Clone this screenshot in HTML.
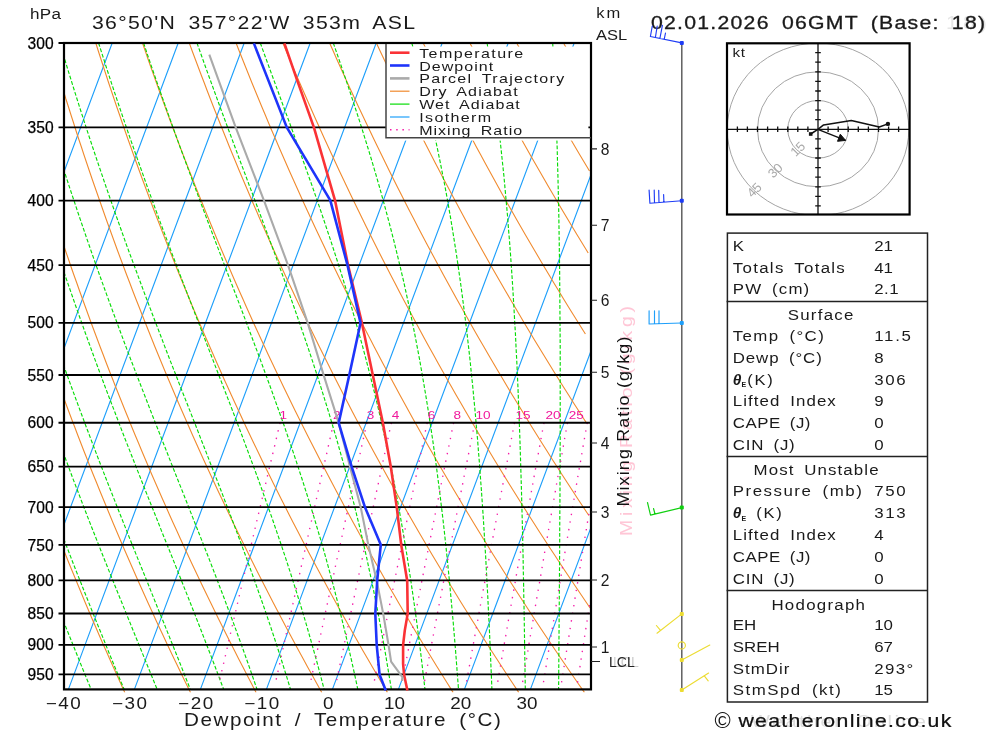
<!DOCTYPE html>
<html lang="en"><head><meta charset="utf-8"><title>Skew-T sounding 36°50'N 357°22'W</title>
<style>html,body{margin:0;padding:0;background:#fff}body{width:1000px;height:733px;overflow:hidden}svg{display:block}text{font-family:"Liberation Sans", sans-serif;fill:#1a1a1a}</style></head><body>
<svg width="1000" height="733" viewBox="0 0 1000 733">
<rect width="1000" height="733" fill="#fff"/>
<defs><clipPath id="cp"><rect x="64" y="43" width="527" height="649.4"/></clipPath></defs>
<g clip-path="url(#cp)" fill="none">
<path d="M-129.6 689.4 L112.2 43 M-63.6 689.4 L178.2 43 M2.4 689.4 L244.2 43 M68.4 689.4 L310.2 43 M134.4 689.4 L376.2 43 M200.4 689.4 L442.2 43 M266.4 689.4 L508.2 43 M332.4 689.4 L574.2 43 M398.4 689.4 L640.2 43 M464.4 689.4 L706.2 43 M530.4 689.4 L772.2 43" stroke="#1e9ffa" stroke-width="1.15"/>
<path d="M-91.3 43 L-89.6 51 L-87.8 59 L-86 67 L-84.1 75 L-82.3 83 L-80.4 91 L-78.5 99 L-76.6 107 L-74.7 115 L-72.7 123 L-70.8 131 L-68.8 139 L-66.8 147 L-64.7 155 L-62.7 163 L-60.6 171 L-58.5 179 L-56.4 187 L-54.3 195 L-52.1 203 L-49.9 211 L-47.7 219 L-45.5 227 L-43.2 235 L-41 243 L-38.7 251 L-36.4 259 L-34 267 L-31.7 275 L-29.3 283 L-26.9 291 L-24.4 299 L-22 307 L-19.5 315 L-17 323 L-14.5 331 L-12 339 L-9.4 347 L-6.8 355 L-4.2 363 L-1.6 371 L1.1 379 L3.8 387 L6.5 395 L9.2 403 L11.9 411 L14.7 419 L17.5 427 L20.3 435 L23.2 443 L26.1 451 L29 459 L31.9 467 L34.8 475 L37.8 483 L40.8 491 L43.8 499 L46.9 507 L49.9 515 L53 523 L56.2 531 L59.3 539 L62.5 547 L65.7 555 L68.9 563 L72.2 571 L75.5 579 L78.8 587 L82.1 595 L85.4 603 L88.8 611 L92.2 619 L95.7 627 L99.1 635 L102.6 643 L106.2 651 L109.7 659 L113.3 667 L116.9 675 L120.5 683 L123.4 689.4 L124.8 692.4 M-44.6 43 L-42.6 51 L-40.6 59 L-38.6 67 L-36.6 75 L-34.5 83 L-32.5 91 L-30.4 99 L-28.3 107 L-26.1 115 L-24 123 L-21.8 131 L-19.6 139 L-17.4 147 L-15.1 155 L-12.9 163 L-10.6 171 L-8.3 179 L-6 187 L-3.6 195 L-1.2 203 L1.2 211 L3.6 219 L6 227 L8.5 235 L11 243 L13.5 251 L16 259 L18.6 267 L21.1 275 L23.7 283 L26.4 291 L29 299 L31.7 307 L34.4 315 L37.1 323 L39.8 331 L42.6 339 L45.4 347 L48.2 355 L51.1 363 L53.9 371 L56.8 379 L59.7 387 L62.7 395 L65.6 403 L68.6 411 L71.6 419 L74.7 427 L77.7 435 L80.8 443 L83.9 451 L87.1 459 L90.2 467 L93.4 475 L96.7 483 L99.9 491 L103.2 499 L106.5 507 L109.8 515 L113.1 523 L116.5 531 L119.9 539 L123.3 547 L126.8 555 L130.3 563 L133.8 571 L137.3 579 L140.9 587 L144.5 595 L148.1 603 L151.8 611 L155.4 619 L159.1 627 L162.9 635 L166.6 643 L170.4 651 L174.2 659 L178.1 667 L181.9 675 L185.8 683 L189 689.4 L190.5 692.4 M2.2 43 L4.4 51 L6.6 59 L8.8 67 L11 75 L13.2 83 L15.5 91 L17.8 99 L20.1 107 L22.4 115 L24.8 123 L27.2 131 L29.6 139 L32 147 L34.4 155 L36.9 163 L39.4 171 L41.9 179 L44.5 187 L47 195 L49.6 203 L52.2 211 L54.8 219 L57.5 227 L60.2 235 L62.9 243 L65.6 251 L68.4 259 L71.1 267 L73.9 275 L76.8 283 L79.6 291 L82.5 299 L85.4 307 L88.3 315 L91.2 323 L94.2 331 L97.2 339 L100.2 347 L103.3 355 L106.3 363 L109.4 371 L112.6 379 L115.7 387 L118.9 395 L122.1 403 L125.3 411 L128.6 419 L131.8 427 L135.1 435 L138.5 443 L141.8 451 L145.2 459 L148.6 467 L152 475 L155.5 483 L159 491 L162.5 499 L166.1 507 L169.6 515 L173.2 523 L176.9 531 L180.5 539 L184.2 547 L187.9 555 L191.6 563 L195.4 571 L199.2 579 L203 587 L206.9 595 L210.8 603 L214.7 611 L218.6 619 L222.6 627 L226.6 635 L230.6 643 L234.7 651 L238.7 659 L242.9 667 L247 675 L251.2 683 L254.5 689.4 L256.1 692.4 M49 43 L51.3 51 L53.7 59 L56.1 67 L58.5 75 L61 83 L63.5 91 L65.9 99 L68.5 107 L71 115 L73.6 123 L76.1 131 L78.7 139 L81.4 147 L84 155 L86.7 163 L89.4 171 L92.1 179 L94.9 187 L97.7 195 L100.5 203 L103.3 211 L106.1 219 L109 227 L111.9 235 L114.8 243 L117.7 251 L120.7 259 L123.7 267 L126.7 275 L129.8 283 L132.8 291 L135.9 299 L139.1 307 L142.2 315 L145.4 323 L148.6 331 L151.8 339 L155 347 L158.3 355 L161.6 363 L164.9 371 L168.3 379 L171.7 387 L175.1 395 L178.5 403 L182 411 L185.5 419 L189 427 L192.5 435 L196.1 443 L199.7 451 L203.3 459 L207 467 L210.7 475 L214.4 483 L218.1 491 L221.9 499 L225.7 507 L229.5 515 L233.3 523 L237.2 531 L241.1 539 L245.1 547 L249 555 L253 563 L257 571 L261.1 579 L265.2 587 L269.3 595 L273.4 603 L277.6 611 L281.8 619 L286 627 L290.3 635 L294.6 643 L298.9 651 L303.3 659 L307.6 667 L312.1 675 L316.5 683 L320.1 689.4 L321.8 692.4 M95.8 43 L98.3 51 L100.9 59 L103.5 67 L106.1 75 L108.7 83 L111.4 91 L114.1 99 L116.8 107 L119.6 115 L122.3 123 L125.1 131 L127.9 139 L130.8 147 L133.6 155 L136.5 163 L139.4 171 L142.3 179 L145.3 187 L148.3 195 L151.3 203 L154.3 211 L157.4 219 L160.5 227 L163.6 235 L166.7 243 L169.9 251 L173.1 259 L176.3 267 L179.5 275 L182.8 283 L186.1 291 L189.4 299 L192.7 307 L196.1 315 L199.5 323 L202.9 331 L206.4 339 L209.9 347 L213.4 355 L216.9 363 L220.5 371 L224 379 L227.7 387 L231.3 395 L235 403 L238.7 411 L242.4 419 L246.1 427 L249.9 435 L253.7 443 L257.6 451 L261.4 459 L265.3 467 L269.3 475 L273.2 483 L277.2 491 L281.2 499 L285.3 507 L289.3 515 L293.4 523 L297.6 531 L301.7 539 L305.9 547 L310.1 555 L314.4 563 L318.7 571 L323 579 L327.3 587 L331.7 595 L336.1 603 L340.5 611 L345 619 L349.5 627 L354 635 L358.6 643 L363.1 651 L367.8 659 L372.4 667 L377.1 675 L381.8 683 L385.6 689.4 L387.4 692.4 M142.5 43 L145.3 51 L148 59 L150.8 67 L153.7 75 L156.5 83 L159.4 91 L162.3 99 L165.2 107 L168.1 115 L171.1 123 L174.1 131 L177.1 139 L180.1 147 L183.2 155 L186.3 163 L189.4 171 L192.6 179 L195.7 187 L198.9 195 L202.2 203 L205.4 211 L208.7 219 L212 227 L215.3 235 L218.6 243 L222 251 L225.4 259 L228.9 267 L232.3 275 L235.8 283 L239.3 291 L242.9 299 L246.4 307 L250 315 L253.6 323 L257.3 331 L261 339 L264.7 347 L268.4 355 L272.2 363 L276 371 L279.8 379 L283.6 387 L287.5 395 L291.4 403 L295.3 411 L299.3 419 L303.3 427 L307.3 435 L311.4 443 L315.5 451 L319.6 459 L323.7 467 L327.9 475 L332.1 483 L336.3 491 L340.6 499 L344.8 507 L349.2 515 L353.5 523 L357.9 531 L362.3 539 L366.8 547 L371.2 555 L375.7 563 L380.3 571 L384.8 579 L389.4 587 L394.1 595 L398.7 603 L403.4 611 L408.2 619 L412.9 627 L417.7 635 L422.5 643 L427.4 651 L432.3 659 L437.2 667 L442.2 675 L447.2 683 L451.2 689.4 L453.1 692.4 M189.3 43 L192.2 51 L195.2 59 L198.2 67 L201.2 75 L204.3 83 L207.3 91 L210.4 99 L213.5 107 L216.7 115 L219.9 123 L223.1 131 L226.3 139 L229.5 147 L232.8 155 L236.1 163 L239.4 171 L242.8 179 L246.2 187 L249.6 195 L253 203 L256.5 211 L259.9 219 L263.5 227 L267 235 L270.6 243 L274.2 251 L277.8 259 L281.4 267 L285.1 275 L288.8 283 L292.6 291 L296.3 299 L300.1 307 L303.9 315 L307.8 323 L311.7 331 L315.6 339 L319.5 347 L323.5 355 L327.5 363 L331.5 371 L335.5 379 L339.6 387 L343.7 395 L347.9 403 L352 411 L356.2 419 L360.5 427 L364.7 435 L369 443 L373.3 451 L377.7 459 L382.1 467 L386.5 475 L390.9 483 L395.4 491 L399.9 499 L404.4 507 L409 515 L413.6 523 L418.2 531 L422.9 539 L427.6 547 L432.3 555 L437.1 563 L441.9 571 L446.7 579 L451.6 587 L456.5 595 L461.4 603 L466.4 611 L471.3 619 L476.4 627 L481.4 635 L486.5 643 L491.6 651 L496.8 659 L502 667 L507.2 675 L512.5 683 L516.7 689.4 L518.7 692.4 M236.1 43 L239.2 51 L242.4 59 L245.6 67 L248.8 75 L252 83 L255.3 91 L258.6 99 L261.9 107 L265.3 115 L268.6 123 L272 131 L275.5 139 L278.9 147 L282.4 155 L285.9 163 L289.4 171 L293 179 L296.6 187 L300.2 195 L303.8 203 L307.5 211 L311.2 219 L314.9 227 L318.7 235 L322.5 243 L326.3 251 L330.1 259 L334 267 L337.9 275 L341.8 283 L345.8 291 L349.8 299 L353.8 307 L357.8 315 L361.9 323 L366 331 L370.2 339 L374.3 347 L378.5 355 L382.7 363 L387 371 L391.3 379 L395.6 387 L399.9 395 L404.3 403 L408.7 411 L413.1 419 L417.6 427 L422.1 435 L426.6 443 L431.2 451 L435.8 459 L440.4 467 L445.1 475 L449.8 483 L454.5 491 L459.3 499 L464 507 L468.9 515 L473.7 523 L478.6 531 L483.5 539 L488.5 547 L493.4 555 L498.5 563 L503.5 571 L508.6 579 L513.7 587 L518.9 595 L524.1 603 L529.3 611 L534.5 619 L539.8 627 L545.1 635 L550.5 643 L555.9 651 L561.3 659 L566.8 667 L572.3 675 L577.8 683 L582.3 689.4 L584.4 692.4 M282.9 43 L286.2 51 L289.5 59 L292.9 67 L296.3 75 L299.8 83 L303.3 91 L306.8 99 L310.3 107 L313.8 115 L317.4 123 L321 131 L324.6 139 L328.3 147 L332 155 L335.7 163 L339.4 171 L343.2 179 L347 187 L350.8 195 L354.7 203 L358.6 211 L362.5 219 L366.4 227 L370.4 235 L374.4 243 L378.4 251 L382.5 259 L386.6 267 L390.7 275 L394.9 283 L399 291 L403.2 299 L407.5 307 L411.8 315 L416.1 323 L420.4 331 L424.7 339 L429.1 347 L433.6 355 L438 363 L442.5 371 L447 379 L451.6 387 L456.1 395 L460.8 403 L465.4 411 L470.1 419 L474.8 427 L479.5 435 L484.3 443 L489.1 451 L493.9 459 L498.8 467 L503.7 475 L508.6 483 L513.6 491 L518.6 499 L523.6 507 L528.7 515 L533.8 523 L538.9 531 L544.1 539 L549.3 547 L554.6 555 L559.8 563 L565.1 571 L570.5 579 L575.9 587 L581.3 595 L586.7 603 L590.1 608 M329.6 43 L333.2 51 L336.7 59 L340.3 67 L343.9 75 L347.5 83 L351.2 91 L354.9 99 L358.6 107 L362.4 115 L366.2 123 L370 131 L373.8 139 L377.7 147 L381.6 155 L385.5 163 L389.4 171 L393.4 179 L397.4 187 L401.5 195 L405.5 203 L409.6 211 L413.8 219 L417.9 227 L422.1 235 L426.3 243 L430.6 251 L434.9 259 L439.2 267 L443.5 275 L447.9 283 L452.3 291 L456.7 299 L461.2 307 L465.7 315 L470.2 323 L474.7 331 L479.3 339 L484 347 L488.6 355 L493.3 363 L498 371 L502.8 379 L507.5 387 L512.3 395 L517.2 403 L522.1 411 L527 419 L531.9 427 L536.9 435 L541.9 443 L547 451 L552 459 L557.2 467 L562.3 475 L567.5 483 L572.7 491 L577.9 499 L583.2 507 L588.5 515 L588.9 515.5 M376.4 43 L380.1 51 L383.9 59 L387.7 67 L391.5 75 L395.3 83 L399.2 91 L403.1 99 L407 107 L411 115 L414.9 123 L418.9 131 L423 139 L427.1 147 L431.2 155 L435.3 163 L439.5 171 L443.6 179 L447.9 187 L452.1 195 L456.4 203 L460.7 211 L465 219 L469.4 227 L473.8 235 L478.3 243 L482.7 251 L487.2 259 L491.7 267 L496.3 275 L500.9 283 L505.5 291 L510.2 299 L514.9 307 L519.6 315 L524.3 323 L529.1 331 L533.9 339 L538.8 347 L543.7 355 L548.6 363 L553.5 371 L558.5 379 L563.5 387 L568.6 395 L573.6 403 L578.8 411 L583.9 419 L586.1 422.4 M423.2 43 L427.1 51 L431 59 L435 67 L439 75 L443.1 83 L447.1 91 L451.2 99 L455.4 107 L459.5 115 L463.7 123 L467.9 131 L472.2 139 L476.4 147 L480.8 155 L485.1 163 L489.5 171 L493.9 179 L498.3 187 L502.7 195 L507.2 203 L511.8 211 L516.3 219 L520.9 227 L525.5 235 L530.2 243 L534.9 251 L539.6 259 L544.3 267 L549.1 275 L553.9 283 L558.8 291 L563.6 299 L568.5 307 L573.5 315 L578.5 323 L583.5 331 L585.4 334 M469.9 43 L474.1 51 L478.2 59 L482.4 67 L486.6 75 L490.8 83 L495.1 91 L499.4 99 L503.7 107 L508.1 115 L512.5 123 L516.9 131 L521.3 139 L525.8 147 L530.3 155 L534.9 163 L539.5 171 L544.1 179 L548.7 187 L553.4 195 L558.1 203 L562.8 211 L567.6 219 L572.4 227 L577.2 235 L582.1 243 L587 251 L588.2 253 M516.7 43 L521 51 L525.4 59 L529.8 67 L534.2 75 L538.6 83 L543.1 91 L547.6 99 L552.1 107 L556.6 115 L561.2 123 L565.9 131 L570.5 139 L575.2 147 L579.9 155 L584.7 163 L589.5 171 M563.5 43 L568 51 L572.5 59 L577.1 67 L581.7 75 L586.4 83" stroke="#f08a2e" stroke-width="1.1"/>
<path d="M-111.5 43 L-111.5 43 L-108.7 56.2 L-105.9 69.4 L-103 82.6 L-100.1 95.8 L-97.1 109 L-94 122.1 L-90.9 135.3 L-87.8 148.5 L-84.6 161.7 L-81.3 174.9 L-78 188.1 L-74.6 201.3 L-71.2 214.5 L-67.7 227.7 L-64.2 240.9 L-60.6 254.1 L-56.9 267.2 L-53.2 280.4 L-49.4 293.6 L-45.5 306.8 L-41.6 320 L-37.7 333.2 L-33.7 346.4 L-29.6 359.6 L-25.4 372.8 L-21.2 386 L-17 399.1 L-12.7 412.3 L-8.3 425.5 L-3.8 438.7 L0.7 451.9 L5.2 465.1 L9.9 478.3 L14.5 491.5 L19.3 504.7 L24.1 517.9 L28.9 531.1 L33.8 544.2 L38.8 557.4 L43.8 570.6 L48.9 583.8 L54 597 L59.2 610.2 L64.4 623.4 L69.7 636.6 L75 649.8 L80.3 663 L85.7 676.2 L91.1 689.3 M-86.5 43 L-86.5 43 L-83.6 56.2 L-80.6 69.4 L-77.5 82.6 L-74.4 95.8 L-71.3 109 L-68 122.1 L-64.8 135.3 L-61.4 148.5 L-58 161.7 L-54.6 174.9 L-51.1 188.1 L-47.5 201.3 L-43.9 214.5 L-40.3 227.7 L-36.5 240.9 L-32.7 254.1 L-28.9 267.2 L-25 280.4 L-21 293.6 L-17 306.8 L-12.9 320 L-8.7 333.2 L-4.5 346.4 L-0.2 359.6 L4.1 372.8 L8.5 386 L13 399.1 L17.5 412.3 L22 425.5 L26.7 438.7 L31.4 451.9 L36.1 465.1 L40.9 478.3 L45.8 491.5 L50.7 504.7 L55.7 517.9 L60.7 531.1 L65.8 544.2 L70.9 557.4 L76 570.6 L81.3 583.8 L86.5 597 L91.8 610.2 L97.1 623.4 L102.5 636.6 L107.8 649.8 L113.2 663 L118.6 676.2 L124.1 689.3 M-60.8 43 L-60.8 43 L-57.6 56.2 L-54.5 69.4 L-51.2 82.6 L-47.9 95.8 L-44.6 109 L-41.2 122.1 L-37.7 135.3 L-34.2 148.5 L-30.7 161.7 L-27 174.9 L-23.3 188.1 L-19.6 201.3 L-15.8 214.5 L-11.9 227.7 L-8 240.9 L-4 254.1 L0.1 267.2 L4.2 280.4 L8.3 293.6 L12.5 306.8 L16.8 320 L21.2 333.2 L25.6 346.4 L30.1 359.6 L34.6 372.8 L39.2 386 L43.8 399.1 L48.5 412.3 L53.3 425.5 L58.1 438.7 L62.9 451.9 L67.9 465.1 L72.8 478.3 L77.9 491.5 L82.9 504.7 L88 517.9 L93.2 531.1 L98.4 544.2 L103.6 557.4 L108.9 570.6 L114.2 583.8 L119.5 597 L124.9 610.2 L130.3 623.4 L135.6 636.6 L141 649.8 L146.4 663 L151.8 676.2 L157.1 689.3 M-33.8 43 L-33.8 43 L-30.5 56.2 L-27.2 69.4 L-23.7 82.6 L-20.3 95.8 L-16.7 109 L-13.1 122.1 L-9.5 135.3 L-5.8 148.5 L-2 161.7 L1.8 174.9 L5.7 188.1 L9.6 201.3 L13.6 214.5 L17.7 227.7 L21.8 240.9 L26 254.1 L30.3 267.2 L34.6 280.4 L38.9 293.6 L43.4 306.8 L47.8 320 L52.4 333.2 L57 346.4 L61.6 359.6 L66.3 372.8 L71.1 386 L75.9 399.1 L80.8 412.3 L85.7 425.5 L90.7 438.7 L95.7 451.9 L100.8 465.1 L105.9 478.3 L111.1 491.5 L116.3 504.7 L121.5 517.9 L126.8 531.1 L132 544.2 L137.3 557.4 L142.7 570.6 L148 583.8 L153.3 597 L158.6 610.2 L164 623.4 L169.3 636.6 L174.6 649.8 L179.9 663 L185.1 676.2 L190.3 689.3 M-5.2 43 L-5.2 43 L-1.7 56.2 L1.8 69.4 L5.5 82.6 L9.1 95.8 L12.9 109 L16.7 122.1 L20.5 135.3 L24.4 148.5 L28.4 161.7 L32.4 174.9 L36.5 188.1 L40.7 201.3 L44.9 214.5 L49.1 227.7 L53.5 240.9 L57.9 254.1 L62.3 267.2 L66.8 280.4 L71.4 293.6 L76 306.8 L80.7 320 L85.4 333.2 L90.2 346.4 L95 359.6 L99.9 372.8 L104.8 386 L109.8 399.1 L114.9 412.3 L119.9 425.5 L125 438.7 L130.2 451.9 L135.4 465.1 L140.6 478.3 L145.8 491.5 L151.1 504.7 L156.4 517.9 L161.6 531.1 L166.9 544.2 L172.2 557.4 L177.5 570.6 L182.7 583.8 L188 597 L193.2 610.2 L198.4 623.4 L203.5 636.6 L208.6 649.8 L213.7 663 L218.7 676.2 L223.6 689.3 M25.7 43 L25.7 43 L29.4 56.2 L33.2 69.4 L37 82.6 L40.9 95.8 L44.9 109 L48.9 122.1 L52.9 135.3 L57.1 148.5 L61.2 161.7 L65.5 174.9 L69.8 188.1 L74.2 201.3 L78.6 214.5 L83.1 227.7 L87.6 240.9 L92.2 254.1 L96.8 267.2 L101.5 280.4 L106.3 293.6 L111.1 306.8 L116 320 L120.9 333.2 L125.8 346.4 L130.8 359.6 L135.9 372.8 L141 386 L146.1 399.1 L151.2 412.3 L156.4 425.5 L161.6 438.7 L166.8 451.9 L172 465.1 L177.2 478.3 L182.5 491.5 L187.7 504.7 L192.9 517.9 L198.1 531.1 L203.3 544.2 L208.5 557.4 L213.6 570.6 L218.6 583.8 L223.7 597 L228.6 610.2 L233.6 623.4 L238.4 636.6 L243.2 649.8 L247.9 663 L252.5 676.2 L257 689.3 M59.9 43 L59.9 43 L63.8 56.2 L67.8 69.4 L71.9 82.6 L76 95.8 L80.2 109 L84.4 122.1 L88.7 135.3 L93.1 148.5 L97.5 161.7 L102 174.9 L106.5 188.1 L111.1 201.3 L115.7 214.5 L120.4 227.7 L125.1 240.9 L129.9 254.1 L134.8 267.2 L139.7 280.4 L144.6 293.6 L149.6 306.8 L154.6 320 L159.7 333.2 L164.7 346.4 L169.8 359.6 L175 372.8 L180.1 386 L185.3 399.1 L190.5 412.3 L195.7 425.5 L200.8 438.7 L206 451.9 L211.1 465.1 L216.3 478.3 L221.4 491.5 L226.4 504.7 L231.5 517.9 L236.4 531.1 L241.4 544.2 L246.2 557.4 L251 570.6 L255.7 583.8 L260.4 597 L265 610.2 L269.5 623.4 L273.9 636.6 L278.2 649.8 L282.4 663 L286.5 676.2 L290.5 689.3 M98.6 43 L98.6 43 L102.8 56.2 L107 69.4 L111.3 82.6 L115.7 95.8 L120.1 109 L124.6 122.1 L129.1 135.3 L133.7 148.5 L138.4 161.7 L143.1 174.9 L147.8 188.1 L152.6 201.3 L157.4 214.5 L162.3 227.7 L167.3 240.9 L172.2 254.1 L177.2 267.2 L182.2 280.4 L187.3 293.6 L192.4 306.8 L197.5 320 L202.6 333.2 L207.7 346.4 L212.8 359.6 L217.9 372.8 L223 386 L228.1 399.1 L233.2 412.3 L238.2 425.5 L243.2 438.7 L248.1 451.9 L253 465.1 L257.9 478.3 L262.6 491.5 L267.3 504.7 L272 517.9 L276.5 531.1 L281 544.2 L285.4 557.4 L289.7 570.6 L293.9 583.8 L298 597 L302.1 610.2 L306 623.4 L309.8 636.6 L313.5 649.8 L317.2 663 L320.7 676.2 L324.1 689.3 M143.6 43 L143.6 43 L148 56.2 L152.5 69.4 L157.1 82.6 L161.7 95.8 L166.4 109 L171.1 122.1 L175.8 135.3 L180.6 148.5 L185.5 161.7 L190.4 174.9 L195.3 188.1 L200.2 201.3 L205.2 214.5 L210.2 227.7 L215.2 240.9 L220.3 254.1 L225.3 267.2 L230.3 280.4 L235.4 293.6 L240.4 306.8 L245.4 320 L250.4 333.2 L255.3 346.4 L260.3 359.6 L265.1 372.8 L270 386 L274.7 399.1 L279.4 412.3 L284.1 425.5 L288.6 438.7 L293.1 451.9 L297.5 465.1 L301.8 478.3 L306 491.5 L310.2 504.7 L314.2 517.9 L318.1 531.1 L322 544.2 L325.7 557.4 L329.3 570.6 L332.9 583.8 L336.3 597 L339.7 610.2 L342.9 623.4 L346.1 636.6 L349.1 649.8 L352.1 663 L355 676.2 L357.8 689.3 M197 43 L197 43 L201.7 56.2 L206.4 69.4 L211.2 82.6 L216 95.8 L220.8 109 L225.7 122.1 L230.6 135.3 L235.5 148.5 L240.4 161.7 L245.4 174.9 L250.3 188.1 L255.3 201.3 L260.2 214.5 L265.1 227.7 L270 240.9 L274.9 254.1 L279.7 267.2 L284.5 280.4 L289.2 293.6 L293.9 306.8 L298.5 320 L303.1 333.2 L307.6 346.4 L312 359.6 L316.3 372.8 L320.5 386 L324.6 399.1 L328.7 412.3 L332.6 425.5 L336.5 438.7 L340.2 451.9 L343.9 465.1 L347.4 478.3 L350.8 491.5 L354.2 504.7 L357.4 517.9 L360.6 531.1 L363.6 544.2 L366.6 557.4 L369.4 570.6 L372.2 583.8 L374.9 597 L377.5 610.2 L380 623.4 L382.4 636.6 L384.8 649.8 L387 663 L389.2 676.2 L391.4 689.3 M260.3 43 L260.3 43 L265.1 56.2 L269.9 69.4 L274.8 82.6 L279.6 95.8 L284.4 109 L289.3 122.1 L294.1 135.3 L298.8 148.5 L303.5 161.7 L308.2 174.9 L312.9 188.1 L317.5 201.3 L322 214.5 L326.4 227.7 L330.8 240.9 L335.1 254.1 L339.3 267.2 L343.4 280.4 L347.5 293.6 L351.4 306.8 L355.2 320 L358.9 333.2 L362.6 346.4 L366.1 359.6 L369.5 372.8 L372.8 386 L376.1 399.1 L379.2 412.3 L382.2 425.5 L385.1 438.7 L387.9 451.9 L390.6 465.1 L393.3 478.3 L395.8 491.5 L398.3 504.7 L400.6 517.9 L402.9 531.1 L405.1 544.2 L407.3 557.4 L409.3 570.6 L411.3 583.8 L413.2 597 L415.1 610.2 L416.9 623.4 L418.6 636.6 L420.3 649.8 L421.9 663 L423.4 676.2 L425 689.3 M333.3 43 L333.3 43 L337.9 56.2 L342.4 69.4 L346.9 82.6 L351.3 95.8 L355.6 109 L359.9 122.1 L364 135.3 L368.1 148.5 L372.1 161.7 L376 174.9 L379.8 188.1 L383.4 201.3 L387 214.5 L390.5 227.7 L393.9 240.9 L397.1 254.1 L400.3 267.2 L403.4 280.4 L406.3 293.6 L409.2 306.8 L411.9 320 L414.6 333.2 L417.1 346.4 L419.6 359.6 L421.9 372.8 L424.2 386 L426.4 399.1 L428.5 412.3 L430.5 425.5 L432.5 438.7 L434.4 451.9 L436.2 465.1 L437.9 478.3 L439.6 491.5 L441.2 504.7 L442.8 517.9 L444.3 531.1 L445.7 544.2 L447.1 557.4 L448.4 570.6 L449.7 583.8 L450.9 597 L452.1 610.2 L453.3 623.4 L454.4 636.6 L455.5 649.8 L456.5 663 L457.5 676.2 L458.5 689.3 M411.8 43 L411.8 43 L415.4 56.2 L418.9 69.4 L422.2 82.6 L425.5 95.8 L428.6 109 L431.7 122.1 L434.6 135.3 L437.4 148.5 L440.1 161.7 L442.7 174.9 L445.3 188.1 L447.7 201.3 L450 214.5 L452.2 227.7 L454.3 240.9 L456.4 254.1 L458.3 267.2 L460.2 280.4 L462 293.6 L463.7 306.8 L465.4 320 L467 333.2 L468.5 346.4 L470 359.6 L471.3 372.8 L472.7 386 L473.9 399.1 L475.2 412.3 L476.3 425.5 L477.5 438.7 L478.5 451.9 L479.6 465.1 L480.5 478.3 L481.5 491.5 L482.4 504.7 L483.3 517.9 L484.1 531.1 L484.9 544.2 L485.7 557.4 L486.4 570.6 L487.1 583.8 L487.8 597 L488.4 610.2 L489.1 623.4 L489.7 636.6 L490.3 649.8 L490.8 663 L491.4 676.2 L491.9 689.3 M487.1 43 L487.1 43 L489.1 56.2 L491.1 69.4 L493 82.6 L494.7 95.8 L496.4 109 L498 122.1 L499.6 135.3 L501 148.5 L502.4 161.7 L503.8 174.9 L505 188.1 L506.2 201.3 L507.4 214.5 L508.4 227.7 L509.5 240.9 L510.5 254.1 L511.4 267.2 L512.3 280.4 L513.1 293.6 L513.9 306.8 L514.6 320 L515.4 333.2 L516 346.4 L516.7 359.6 L517.3 372.8 L517.9 386 L518.4 399.1 L518.9 412.3 L519.4 425.5 L519.9 438.7 L520.3 451.9 L520.7 465.1 L521.1 478.3 L521.5 491.5 L521.8 504.7 L522.2 517.9 L522.5 531.1 L522.8 544.2 L523.1 557.4 L523.3 570.6 L523.6 583.8 L523.8 597 L524.1 610.2 L524.3 623.4 L524.5 636.6 L524.7 649.8 L524.9 663 L525.1 676.2 L525.3 689.3 M552.7 43 L552.7 43 L553.4 56.2 L554.1 69.4 L554.7 82.6 L555.3 95.8 L555.8 109 L556.3 122.1 L556.7 135.3 L557.2 148.5 L557.5 161.7 L557.9 174.9 L558.2 188.1 L558.5 201.3 L558.8 214.5 L559 227.7 L559.2 240.9 L559.4 254.1 L559.6 267.2 L559.7 280.4 L559.8 293.6 L559.9 306.8 L560 320 L560.1 333.2 L560.2 346.4 L560.2 359.6 L560.2 372.8 L560.2 386 L560.2 399.1 L560.2 412.3 L560.2 425.5 L560.2 438.7 L560.1 451.9 L560.1 465.1 L560 478.3 L560 491.5 L559.9 504.7 L559.8 517.9 L559.7 531.1 L559.7 544.2 L559.6 557.4 L559.5 570.6 L559.4 583.8 L559.3 597 L559.2 610.2 L559.1 623.4 L559 636.6 L558.9 649.8 L558.8 663 L558.7 676.2 L558.6 689.3" stroke="#06dc06" stroke-width="1.15" stroke-dasharray="3.8 1.9"/>
<path d="M280.1 422.7 L277.7 432.7 L275.4 442.7 L273 452.7 L270.6 462.7 L268.2 472.7 L265.9 482.7 L263.5 492.7 L261.2 502.7 L258.8 512.7 L256.4 522.7 L254.1 532.7 L251.7 542.7 L249.4 552.7 L247.1 562.7 L244.7 572.7 L242.4 582.7 L240 592.7 L237.7 602.7 L235.4 612.7 L233 622.7 L230.7 632.7 L228.4 642.7 L226.1 652.7 L223.8 662.7 L221.4 672.7 L219.1 682.7 M333.7 422.7 L331.4 432.7 L329.1 442.7 L326.9 452.7 L324.6 462.7 L322.3 472.7 L320.1 482.7 L317.8 492.7 L315.6 502.7 L313.3 512.7 L311.1 522.7 L308.8 532.7 L306.6 542.7 L304.3 552.7 L302.1 562.7 L299.9 572.7 L297.6 582.7 L295.4 592.7 L293.2 602.7 L291 612.7 L288.7 622.7 L286.5 632.7 L284.3 642.7 L282.1 652.7 L279.9 662.7 L277.7 672.7 L275.5 682.7 M366.9 422.7 L364.7 432.7 L362.5 442.7 L360.3 452.7 L358.1 462.7 L355.9 472.7 L353.7 482.7 L351.5 492.7 L349.3 502.7 L347.1 512.7 L344.9 522.7 L342.8 532.7 L340.6 542.7 L338.4 552.7 L336.2 562.7 L334.1 572.7 L331.9 582.7 L329.7 592.7 L327.6 602.7 L325.4 612.7 L323.3 622.7 L321.1 632.7 L319 642.7 L316.9 652.7 L314.7 662.7 L312.6 672.7 L310.4 682.7 M391.4 422.7 L389.2 432.7 L387.1 442.7 L384.9 452.7 L382.7 462.7 L380.6 472.7 L378.5 482.7 L376.3 492.7 L374.2 502.7 L372 512.7 L369.9 522.7 L367.8 532.7 L365.6 542.7 L363.5 552.7 L361.4 562.7 L359.3 572.7 L357.2 582.7 L355.1 592.7 L353 602.7 L350.9 612.7 L348.8 622.7 L346.7 632.7 L344.6 642.7 L342.5 652.7 L340.4 662.7 L338.3 672.7 L336.2 682.7 M427.2 422.7 L425.1 432.7 L423 442.7 L420.9 452.7 L418.9 462.7 L416.8 472.7 L414.7 482.7 L412.7 492.7 L410.6 502.7 L408.5 512.7 L406.5 522.7 L404.4 532.7 L402.4 542.7 L400.3 552.7 L398.3 562.7 L396.2 572.7 L394.2 582.7 L392.2 592.7 L390.1 602.7 L388.1 612.7 L386.1 622.7 L384.1 632.7 L382.1 642.7 L380.1 652.7 L378 662.7 L376 672.7 L374 682.7 M453.6 422.7 L451.6 432.7 L449.6 442.7 L447.5 452.7 L445.5 462.7 L443.5 472.7 L441.5 482.7 L439.5 492.7 L437.5 502.7 L435.5 512.7 L433.5 522.7 L431.5 532.7 L429.5 542.7 L427.5 552.7 L425.5 562.7 L423.5 572.7 L421.5 582.7 L419.6 592.7 L417.6 602.7 L415.6 612.7 L413.7 622.7 L411.7 632.7 L409.7 642.7 L407.8 652.7 L405.8 662.7 L403.9 672.7 L402 682.7 M474.7 422.7 L472.8 432.7 L470.8 442.7 L468.8 452.7 L466.8 462.7 L464.8 472.7 L462.9 482.7 L460.9 492.7 L458.9 502.7 L457 512.7 L455 522.7 L453.1 532.7 L451.1 542.7 L449.2 552.7 L447.2 562.7 L445.3 572.7 L443.4 582.7 L441.5 592.7 L439.5 602.7 L437.6 612.7 L435.7 622.7 L433.8 632.7 L431.9 642.7 L430 652.7 L428.1 662.7 L426.2 672.7 L424.3 682.7 M514.5 422.7 L512.6 432.7 L510.7 442.7 L508.8 452.7 L507 462.7 L505.1 472.7 L503.2 482.7 L501.3 492.7 L499.4 502.7 L497.6 512.7 L495.7 522.7 L493.8 532.7 L492 542.7 L490.1 552.7 L488.3 562.7 L486.4 572.7 L484.6 582.7 L482.7 592.7 L480.9 602.7 L479.1 612.7 L477.3 622.7 L475.4 632.7 L473.6 642.7 L471.8 652.7 L470 662.7 L468.2 672.7 L466.4 682.7 M544 422.7 L542.1 432.7 L540.3 442.7 L538.5 452.7 L536.6 462.7 L534.8 472.7 L533 482.7 L531.2 492.7 L529.4 502.7 L527.6 512.7 L525.8 522.7 L524 532.7 L522.2 542.7 L520.4 552.7 L518.6 562.7 L516.8 572.7 L515.1 582.7 L513.3 592.7 L511.5 602.7 L509.8 612.7 L508 622.7 L506.3 632.7 L504.5 642.7 L502.8 652.7 L501 662.7 L499.3 672.7 L497.6 682.7 M567.5 422.7 L565.7 432.7 L563.9 442.7 L562.2 452.7 L560.4 462.7 L558.6 472.7 L556.8 482.7 L555.1 492.7 L553.3 502.7 L551.6 512.7 L549.8 522.7 L548.1 532.7 L546.4 542.7 L544.6 552.7 L542.9 562.7 L541.2 572.7 L539.5 582.7 L537.7 592.7 L536 602.7 L534.3 612.7 L532.6 622.7 L530.9 632.7 L529.2 642.7 L527.6 652.7 L525.9 662.7 L524.2 672.7 L522.5 682.7 M587.2 422.7 L585.5 432.7 L583.7 442.7 L582 452.7 L580.3 462.7 L578.5 472.7 L576.8 482.7 L575.1 492.7 L573.4 502.7 L571.7 512.7 L570 522.7 L568.3 532.7 L566.6 542.7 L564.9 552.7 L563.2 562.7 L561.6 572.7 L559.9 582.7 L558.2 592.7 L556.6 602.7 L554.9 612.7 L553.3 622.7 L551.6 632.7 L550 642.7 L548.3 652.7 L546.7 662.7 L545.1 672.7 L543.4 682.7 M604.2 422.7 L602.5 432.7 L600.8 442.7 L599.1 452.7 L597.4 462.7 L595.8 472.7 L594.1 482.7 L592.4 492.7 L590.7 502.7 L589.1 512.7 L587.4 522.7 L585.8 532.7 L584.1 542.7 L582.5 552.7 L580.8 562.7 L579.2 572.7 L577.6 582.7 L575.9 592.7 L574.3 602.7 L572.7 612.7 L571.1 622.7 L569.5 632.7 L567.9 642.7 L566.3 652.7 L564.7 662.7 L563.1 672.7 L561.5 682.7 M619.2 422.7 L617.6 432.7 L615.9 442.7 L614.3 452.7 L612.6 462.7 L610.9 472.7 L609.3 482.7 L607.7 492.7 L606 502.7 L604.4 512.7 L602.8 522.7 L601.2 532.7 L599.5 542.7 L597.9 552.7 L596.3 562.7 L594.7 572.7 L593.1 582.7 L591.5 592.7 L590 602.7 L588.4 612.7 L586.8 622.7 L585.2 632.7 L583.7 642.7 L582.1 652.7 L580.6 662.7 L579 672.7 L577.5 682.7" stroke="#f51aa8" stroke-width="1.35" stroke-dasharray="1.4 6.3"/>
</g>
<path d="M58.5 43 L591 43 M58.5 127.4 L591 127.4 M58.5 200.6 L591 200.6 M58.5 265.1 L591 265.1 M58.5 322.8 L591 322.8 M58.5 375 L591 375 M58.5 422.7 L591 422.7 M58.5 466.6 L591 466.6 M58.5 507.1 L591 507.1 M58.5 544.9 L591 544.9 M58.5 580.3 L591 580.3 M58.5 613.5 L591 613.5 M58.5 644.8 L591 644.8 M58.5 674.4 L591 674.4" stroke="#000" stroke-width="1.85" fill="none"/>
<rect x="64" y="43" width="527" height="646.4" fill="none" stroke="#000" stroke-width="2.2"/>
<text transform="translate(279.6,419.2) scale(1.18,1)" font-size="11.5" style="fill:#f0189c">1</text>
<text transform="translate(333.1,419.2) scale(1.18,1)" font-size="11.5" style="fill:#f0189c">2</text>
<text transform="translate(366.8,419.2) scale(1.18,1)" font-size="11.5" style="fill:#f0189c">3</text>
<text transform="translate(391.8,419.2) scale(1.18,1)" font-size="11.5" style="fill:#f0189c">4</text>
<text transform="translate(427.8,419.2) scale(1.18,1)" font-size="11.5" style="fill:#f0189c">6</text>
<text transform="translate(453.6,419.2) scale(1.18,1)" font-size="11.5" style="fill:#f0189c">8</text>
<text transform="translate(475.5,419.2) scale(1.18,1)" font-size="11.5" textLength="12.7" lengthAdjust="spacing" style="fill:#f0189c">10</text>
<text transform="translate(515.5,419.2) scale(1.18,1)" font-size="11.5" textLength="12.7" lengthAdjust="spacing" style="fill:#f0189c">15</text>
<text transform="translate(545.5,419.2) scale(1.18,1)" font-size="11.5" textLength="12.7" lengthAdjust="spacing" style="fill:#f0189c">20</text>
<text transform="translate(568.8,419.2) scale(1.18,1)" font-size="11.5" textLength="12.7" lengthAdjust="spacing" style="fill:#f0189c">25</text>
<g fill="none" stroke-linejoin="round">
<path d="M284.4 43.4 L296.4 78.2 L313.9 127.4 L335 200.3 L348 265.1 L361.9 322.9 L372.8 374.9 L382.9 422.9 L390.8 466.8 L396.8 507.6 L401.2 544.7 L407.2 580.7 L407.7 613.6 L404.8 630.4 L403.1 644.8 L403.1 664 L404.1 674.8 L407.4 690.5" stroke="#fa3236" stroke-width="2.6"/>
<path d="M209.3 54.7 L235.7 127.4 L264 200.6 L288 265.1 L307.7 322.9 L323.6 374.9 L338.7 422.9 L350 466.8 L360.8 507.6 L368.3 544.7 L376.7 580.7 L383.2 613.6 L388.5 644.8 L391.1 661.6 L402.4 677.2 L402 680.8" stroke="#aaaaaa" stroke-width="2.1"/>
<path d="M253.9 43.4 L286.8 127.4 L330.3 200.3 L347.5 265.1 L360.5 322.9 L349.3 374.9 L338.7 422.9 L351.7 466.8 L365.1 507.6 L380.8 544.7 L377.2 580.7 L375.3 613.6 L376.7 644.8 L379.6 674.8 L385.8 690.5" stroke="#1e34fa" stroke-width="2.6"/>
</g>
<rect x="386" y="46.6" width="202.4" height="94" fill="#fff"/>
<path d="M386 44 L386 137.8 L591 137.8" fill="none" stroke="#444" stroke-width="1.5"/>
<path d="M390 52.7 L409.5 52.7" stroke="#fa3236" stroke-width="2.6" fill="none"/>
<text transform="translate(419.2,57.7) scale(1.18,1)" font-size="13.6" textLength="88.1" lengthAdjust="spacing">Temperature</text>
<path d="M390 65.5 L409.5 65.5" stroke="#1e34fa" stroke-width="2.6" fill="none"/>
<text transform="translate(419.2,70.5) scale(1.18,1)" font-size="13.6" textLength="62.7" lengthAdjust="spacing">Dewpoint</text>
<path d="M390 78.4 L409.5 78.4" stroke="#aaaaaa" stroke-width="2.6" fill="none"/>
<text transform="translate(419.2,83.4) scale(1.18,1)" font-size="13.6" word-spacing="3.3" textLength="122.9" lengthAdjust="spacing">Parcel Trajectory</text>
<path d="M390 91.2 L409.5 91.2" stroke="#f08a2e" stroke-width="1.2" fill="none"/>
<text transform="translate(419.2,96.2) scale(1.18,1)" font-size="13.6" word-spacing="3.3" textLength="83.4" lengthAdjust="spacing">Dry Adiabat</text>
<path d="M390 104.1 L409.5 104.1" stroke="#06dc06" stroke-width="1.2" fill="none"/>
<text transform="translate(419.2,109.1) scale(1.18,1)" font-size="13.6" word-spacing="3.3" textLength="85.3" lengthAdjust="spacing">Wet Adiabat</text>
<path d="M390 117 L409.5 117" stroke="#1e9ffa" stroke-width="1.2" fill="none"/>
<text transform="translate(419.2,122) scale(1.18,1)" font-size="13.6" textLength="61" lengthAdjust="spacing">Isotherm</text>
<path d="M390 129.8 L409.5 129.8" stroke="#f51aa8" stroke-width="1.5" fill="none" stroke-dasharray="1.5 4.7"/>
<text transform="translate(419.2,134.8) scale(1.18,1)" font-size="13.6" word-spacing="3.3" textLength="87.3" lengthAdjust="spacing">Mixing Ratio</text>
<text x="53.6" y="48.6" font-size="15.6" text-anchor="end" style="fill:#000;stroke:#000;stroke-width:0.25">300</text>
<text x="53.6" y="133" font-size="15.6" text-anchor="end" style="fill:#000;stroke:#000;stroke-width:0.25">350</text>
<text x="53.6" y="206.2" font-size="15.6" text-anchor="end" style="fill:#000;stroke:#000;stroke-width:0.25">400</text>
<text x="53.6" y="270.7" font-size="15.6" text-anchor="end" style="fill:#000;stroke:#000;stroke-width:0.25">450</text>
<text x="53.6" y="328.4" font-size="15.6" text-anchor="end" style="fill:#000;stroke:#000;stroke-width:0.25">500</text>
<text x="53.6" y="380.6" font-size="15.6" text-anchor="end" style="fill:#000;stroke:#000;stroke-width:0.25">550</text>
<text x="53.6" y="428.3" font-size="15.6" text-anchor="end" style="fill:#000;stroke:#000;stroke-width:0.25">600</text>
<text x="53.6" y="472.2" font-size="15.6" text-anchor="end" style="fill:#000;stroke:#000;stroke-width:0.25">650</text>
<text x="53.6" y="512.7" font-size="15.6" text-anchor="end" style="fill:#000;stroke:#000;stroke-width:0.25">700</text>
<text x="53.6" y="550.5" font-size="15.6" text-anchor="end" style="fill:#000;stroke:#000;stroke-width:0.25">750</text>
<text x="53.6" y="585.9" font-size="15.6" text-anchor="end" style="fill:#000;stroke:#000;stroke-width:0.25">800</text>
<text x="53.6" y="619.1" font-size="15.6" text-anchor="end" style="fill:#000;stroke:#000;stroke-width:0.25">850</text>
<text x="53.6" y="650.4" font-size="15.6" text-anchor="end" style="fill:#000;stroke:#000;stroke-width:0.25">900</text>
<text x="53.6" y="680" font-size="15.6" text-anchor="end" style="fill:#000;stroke:#000;stroke-width:0.25">950</text>
<text transform="translate(30,19) scale(1.18,1)" font-size="14.5" textLength="26.3" lengthAdjust="spacing">hPa</text>
<text transform="translate(45.8,708.5) scale(1.18,1)" font-size="16" textLength="29.7" lengthAdjust="spacing">−40</text>
<text transform="translate(111.9,708.5) scale(1.18,1)" font-size="16" textLength="29.7" lengthAdjust="spacing">−30</text>
<text transform="translate(178.1,708.5) scale(1.18,1)" font-size="16" textLength="29.7" lengthAdjust="spacing">−20</text>
<text transform="translate(244.2,708.5) scale(1.18,1)" font-size="16" textLength="29.7" lengthAdjust="spacing">−10</text>
<text transform="translate(323,708.5) scale(1.18,1)" font-size="16">0</text>
<text transform="translate(384.1,708.5) scale(1.18,1)" font-size="16">10</text>
<text transform="translate(450.3,708.5) scale(1.18,1)" font-size="16">20</text>
<text transform="translate(516.5,708.5) scale(1.18,1)" font-size="16">30</text>
<text transform="translate(184,726.3) scale(1.18,1)" font-size="17.5" word-spacing="4.2" textLength="268.5" lengthAdjust="spacing">Dewpoint / Temperature (°C)</text>
<text transform="translate(92,28.5) scale(1.18,1)" font-size="18" word-spacing="4.3" textLength="273.7" lengthAdjust="spacing">36°50'N 357°22'W 353m ASL</text>
<text transform="translate(946,28.5) scale(1.18,1)" font-size="18" textLength="34.7" lengthAdjust="spacing" style="fill:#e6e6e6">18)</text>
<text transform="translate(651,28.5) scale(1.18,1)" font-size="18" word-spacing="4.3" textLength="283.1" lengthAdjust="spacing" style="stroke:#1a1a1a;stroke-width:0.3">02.01.2026 06GMT (Base: 18)</text>
<text transform="translate(596.3,18.3) scale(1.18,1)" font-size="14" textLength="20.3" lengthAdjust="spacing">km</text>
<text transform="translate(596,40) scale(1.18,1)" font-size="14">ASL</text>
<text x="600.7" y="154.5" font-size="15.6">8</text>
<text x="600.7" y="230.9" font-size="15.6">7</text>
<text x="600.7" y="305.8" font-size="15.6">6</text>
<text x="600.7" y="377.9" font-size="15.6">5</text>
<text x="600.7" y="448.6" font-size="15.6">4</text>
<text x="600.7" y="517.6" font-size="15.6">3</text>
<text x="600.7" y="585.6" font-size="15.6">2</text>
<text x="600.7" y="652.6" font-size="15.6">1</text>
<path d="M591 148.9 L597 148.9 M591 225.3 L597 225.3 M591 300.2 L597 300.2 M591 372.3 L597 372.3 M591 443 L597 443 M591 512 L597 512 M591 580 L597 580 M591 647 L597 647 M591 661.5 L600 661.5" stroke="#222" stroke-width="1.1" fill="none"/>
<text x="613" y="667" font-size="14" style="fill:#ccc">LCL</text>
<text x="609" y="667" font-size="14" style="fill:#222">LCL</text>
<text transform="translate(631.5,536) rotate(-90) scale(1.18,1)" font-size="16.5" textLength="194.9" lengthAdjust="spacing" style="fill:#ffc6d6">Mixing Ratio (g/kg)</text>
<text transform="translate(629.3,506.6) rotate(-90) scale(1.08,1)" font-size="16.5" textLength="157.4" lengthAdjust="spacing" style="fill:#111">Mixing Ratio (g/kg)</text>
<path d="M681.8 43 L681.8 690" stroke="#555" stroke-width="1.4" fill="none"/>
<g stroke="#1e3cf5" fill="none" stroke-width="1.15" stroke-linecap="round">
<rect x="679.8" y="40.9" width="4" height="4" fill="#1e3cf5" stroke="none" rx="1"/>
<path d="M681.8 42.9 L650.4 36.5 M650.4 36.5 L652.3 26 M655.4 37.5 L657.2 26 M659.9 38.5 L662.4 25.3 M664.2 39.4 L665.5 33"/>
</g>
<g stroke="#1e3cf5" fill="none" stroke-width="1.15" stroke-linecap="round">
<rect x="679.8" y="198.7" width="4" height="4" fill="#1e3cf5" stroke="none" rx="1"/>
<path d="M681.8 200.7 L649.9 203.2 M649.9 203.2 L649.1 190.1 M654.5 202.8 L654.2 190.1 M659 202.5 L658.7 190.3 M663.9 202.1 L663.6 194.6"/>
</g>
<g stroke="#1e9ffa" fill="none" stroke-width="1.15" stroke-linecap="round">
<rect x="679.8" y="321" width="4" height="4" fill="#1e9ffa" stroke="none" rx="1"/>
<path d="M681.8 323 L649.1 324 M649.1 324 L649.1 310.8 M654.5 323.8 L654.5 310.8 M659 323.7 L659 310.8"/>
</g>
<g stroke="#10d010" fill="none" stroke-width="1.15" stroke-linecap="round">
<rect x="679.8" y="505.6" width="4" height="4" fill="#10d010" stroke="none" rx="1"/>
<path d="M681.8 507.6 L650.5 515.1 M650.5 515.1 L647.5 502.5 M655 514 L653.5 508.5"/>
</g>
<g stroke="#ecdc32" fill="none" stroke-width="1.15" stroke-linecap="round">
<rect x="679.8" y="611.9" width="4" height="4" fill="#ecdc32" stroke="none" rx="1"/>
<path d="M681.8 613.9 L657 633.2 M660.5 630.3 L656.4 625.5"/>
</g>
<g stroke="#ecdc32" fill="none" stroke-width="1.15" stroke-linecap="round">
<circle cx="681.8" cy="645.4" r="3.6"/>
</g>
<g stroke="#ecdc32" fill="none" stroke-width="1.15" stroke-linecap="round">
<rect x="679.8" y="658" width="4" height="4" fill="#ecdc32" stroke="none" rx="1"/>
<path d="M681.8 660 L709.8 645"/>
</g>
<g stroke="#ecdc32" fill="none" stroke-width="1.15" stroke-linecap="round">
<rect x="679.8" y="688" width="4" height="4" fill="#ecdc32" stroke="none" rx="1"/>
<path d="M681.8 690 L708.6 673 M704.1 675.7 L708.2 680.8"/>
</g>
<g fill="none">
<clipPath id="hc"><rect x="727" y="43.3" width="182.6" height="171.2"/></clipPath>
<g clip-path="url(#hc)" stroke="#a4a4a4" stroke-width="1">
<ellipse cx="818" cy="129.3" rx="30.2" ry="28.8"/>
<ellipse cx="818" cy="129.3" rx="60.5" ry="57.5"/>
<ellipse cx="818" cy="129.3" rx="90.8" ry="86.2"/>
</g>
<path d="M727 129.3 L909.6 129.3 M818 43.3 L818 214.5 M737.4 126.6 L737.4 132 M815.2 52.7 L820.8 52.7 M747.4 126.6 L747.4 132 M815.2 62.2 L820.8 62.2 M757.5 126.6 L757.5 132 M815.2 71.8 L820.8 71.8 M767.6 126.6 L767.6 132 M815.2 81.4 L820.8 81.4 M777.7 126.6 L777.7 132 M815.2 91 L820.8 91 M787.8 126.6 L787.8 132 M815.2 100.6 L820.8 100.6 M797.8 126.6 L797.8 132 M815.2 110.1 L820.8 110.1 M807.9 126.6 L807.9 132 M815.2 119.7 L820.8 119.7 M828.1 126.6 L828.1 132 M815.2 138.9 L820.8 138.9 M838.2 126.6 L838.2 132 M815.2 148.5 L820.8 148.5 M848.2 126.6 L848.2 132 M815.2 158 L820.8 158 M858.3 126.6 L858.3 132 M815.2 167.6 L820.8 167.6 M868.4 126.6 L868.4 132 M815.2 177.2 L820.8 177.2 M878.5 126.6 L878.5 132 M815.2 186.8 L820.8 186.8 M888.6 126.6 L888.6 132 M815.2 196.4 L820.8 196.4 M898.6 126.6 L898.6 132 M815.2 205.9 L820.8 205.9" stroke="#111" stroke-width="1.3"/>
<rect x="727" y="43.3" width="182.6" height="171.2" stroke="#000" stroke-width="2.2"/>
<path d="M810.7 134 L817.9 129.4 L823.6 124.9 L851.3 120.5 L879.3 127 L887.9 123.9" stroke="#111" stroke-width="1.5" stroke-linejoin="round"/>
<rect x="808.9" y="132.2" width="3.6" height="3.6" fill="#111"/>
<circle cx="887.9" cy="123.9" r="2.2" fill="#111"/>
<path d="M817.9 129.4 L845.6 140.4" stroke="#111" stroke-width="1.5"/>
<path d="M845.6 140.4 L837.5 141.3 L840.3 134.2 Z" fill="#111" stroke="#111" stroke-width="1"/>
</g>
<text transform="translate(797.7,149) rotate(-45)" font-size="13" text-anchor="middle" y="4.5" style="fill:#aaa">15</text>
<text transform="translate(775.2,170.5) rotate(-45)" font-size="13" text-anchor="middle" y="4.5" style="fill:#aaa">30</text>
<text transform="translate(754.2,190) rotate(-45)" font-size="13" text-anchor="middle" y="4.5" style="fill:#aaa">45</text>
<text transform="translate(732.4,57) scale(1.18,1)" font-size="13" textLength="10.7" lengthAdjust="spacing">kt</text>
<rect x="727.4" y="233.1" width="200.1" height="468.9" fill="none" stroke="#222" stroke-width="1.5"/>
<path d="M726.6 301.5 L927.5 301.5 M726.6 456.5 L927.5 456.5 M726.6 590.4 L927.5 590.4" stroke="#222" stroke-width="1.5" fill="none"/>
<text transform="translate(732.8,251.2) scale(1.18,1)" font-size="14.3">K</text>
<text transform="translate(874.2,251.2) scale(1.18,1)" font-size="14.3" textLength="15.8" lengthAdjust="spacing">21</text>
<text transform="translate(732.8,272.6) scale(1.18,1)" font-size="14.3" word-spacing="3.4" textLength="94.9" lengthAdjust="spacing">Totals Totals</text>
<text transform="translate(874.2,272.6) scale(1.18,1)" font-size="14.3" textLength="15.8" lengthAdjust="spacing">41</text>
<text transform="translate(732.8,294) scale(1.18,1)" font-size="14.3" word-spacing="3.4" textLength="64.8" lengthAdjust="spacing">PW (cm)</text>
<text transform="translate(874.2,294) scale(1.18,1)" font-size="14.3" textLength="20.7" lengthAdjust="spacing">2.1</text>
<text transform="translate(732.8,341) scale(1.18,1)" font-size="14.3" word-spacing="3.4" textLength="77.1" lengthAdjust="spacing">Temp (°C)</text>
<text transform="translate(874.2,341) scale(1.18,1)" font-size="14.3" textLength="31.2" lengthAdjust="spacing">11.5</text>
<text transform="translate(732.8,363) scale(1.18,1)" font-size="14.3" word-spacing="3.4" textLength="75.4" lengthAdjust="spacing">Dewp (°C)</text>
<text transform="translate(874.2,363) scale(1.18,1)" font-size="14.3">8</text>
<text x="732.8" y="384.5" font-size="14"><tspan font-style="italic" font-weight="bold" font-size="15.5">θ</tspan><tspan font-size="7" font-weight="bold" dy="2.5">E</tspan></text>
<text transform="translate(747.3,384.5) scale(1.18,1)" font-size="14" textLength="21.6" lengthAdjust="spacing">(K)</text>
<text transform="translate(874.2,384.5) scale(1.18,1)" font-size="14.3" textLength="26.6" lengthAdjust="spacing">306</text>
<text transform="translate(732.8,406.2) scale(1.18,1)" font-size="14.3" word-spacing="3.4" textLength="87.3" lengthAdjust="spacing">Lifted Index</text>
<text transform="translate(874.2,406.2) scale(1.18,1)" font-size="14.3">9</text>
<text transform="translate(732.8,428) scale(1.18,1)" font-size="14.3" word-spacing="3.4" textLength="65.8" lengthAdjust="spacing">CAPE (J)</text>
<text transform="translate(874.2,428) scale(1.18,1)" font-size="14.3">0</text>
<text transform="translate(732.8,449.5) scale(1.18,1)" font-size="14.3" word-spacing="3.4" textLength="52.5" lengthAdjust="spacing">CIN (J)</text>
<text transform="translate(874.2,449.5) scale(1.18,1)" font-size="14.3">0</text>
<text transform="translate(732.8,496) scale(1.18,1)" font-size="14.3" word-spacing="3.4" textLength="109.3" lengthAdjust="spacing">Pressure (mb)</text>
<text transform="translate(874.2,496) scale(1.18,1)" font-size="14.3" textLength="26.6" lengthAdjust="spacing">750</text>
<text x="732.8" y="518" font-size="14"><tspan font-style="italic" font-weight="bold" font-size="15.5">θ</tspan><tspan font-size="7" font-weight="bold" dy="2.5">E</tspan></text>
<text transform="translate(756.3,518) scale(1.18,1)" font-size="14" textLength="21.6" lengthAdjust="spacing">(K)</text>
<text transform="translate(874.2,518) scale(1.18,1)" font-size="14.3" textLength="26.6" lengthAdjust="spacing">313</text>
<text transform="translate(732.8,540) scale(1.18,1)" font-size="14.3" word-spacing="3.4" textLength="87.3" lengthAdjust="spacing">Lifted Index</text>
<text transform="translate(874.2,540) scale(1.18,1)" font-size="14.3">4</text>
<text transform="translate(732.8,561.9) scale(1.18,1)" font-size="14.3" word-spacing="3.4" textLength="65.8" lengthAdjust="spacing">CAPE (J)</text>
<text transform="translate(874.2,561.9) scale(1.18,1)" font-size="14.3">0</text>
<text transform="translate(732.8,583.5) scale(1.18,1)" font-size="14.3" word-spacing="3.4" textLength="52.5" lengthAdjust="spacing">CIN (J)</text>
<text transform="translate(874.2,583.5) scale(1.18,1)" font-size="14.3">0</text>
<text transform="translate(732.8,630) scale(1.18,1)" font-size="14.3">EH</text>
<text transform="translate(874.2,630) scale(1.18,1)" font-size="14.3" textLength="15.8" lengthAdjust="spacing">10</text>
<text transform="translate(732.8,651.9) scale(1.18,1)" font-size="14.3">SREH</text>
<text transform="translate(874.2,651.9) scale(1.18,1)" font-size="14.3" textLength="15.8" lengthAdjust="spacing">67</text>
<text transform="translate(732.8,673.5) scale(1.18,1)" font-size="14.3" textLength="48" lengthAdjust="spacing">StmDir</text>
<text transform="translate(874.2,673.5) scale(1.18,1)" font-size="14.3" textLength="33.1" lengthAdjust="spacing">293°</text>
<text transform="translate(732.8,695.4) scale(1.18,1)" font-size="14.3" word-spacing="3.4" textLength="91.5" lengthAdjust="spacing">StmSpd (kt)</text>
<text transform="translate(874.2,695.4) scale(1.18,1)" font-size="14.3" textLength="15.8" lengthAdjust="spacing">15</text>
<text transform="translate(787.7,320) scale(1.18,1)" font-size="14.3" textLength="55.7" lengthAdjust="spacing">Surface</text>
<text transform="translate(753.6,475) scale(1.18,1)" font-size="14.3" word-spacing="3.4" textLength="105.9" lengthAdjust="spacing">Most Unstable</text>
<text transform="translate(771.4,609.6) scale(1.18,1)" font-size="14.3" textLength="79.3" lengthAdjust="spacing">Hodograph</text>
<text transform="translate(751,726.6) scale(1.18,1)" font-size="17" word-spacing="4.1" textLength="148.3" lengthAdjust="spacing" style="fill:#ddd">Weather Online</text>
<text x="714.4" y="727.6" font-size="22" style="fill:#111">©</text>
<text transform="translate(738.4,726.6) scale(1.18,1)" font-size="18" textLength="180.5" lengthAdjust="spacing" style="fill:#111;stroke:#111;stroke-width:0.25">weatheronline.co.uk</text>
</svg></body></html>
